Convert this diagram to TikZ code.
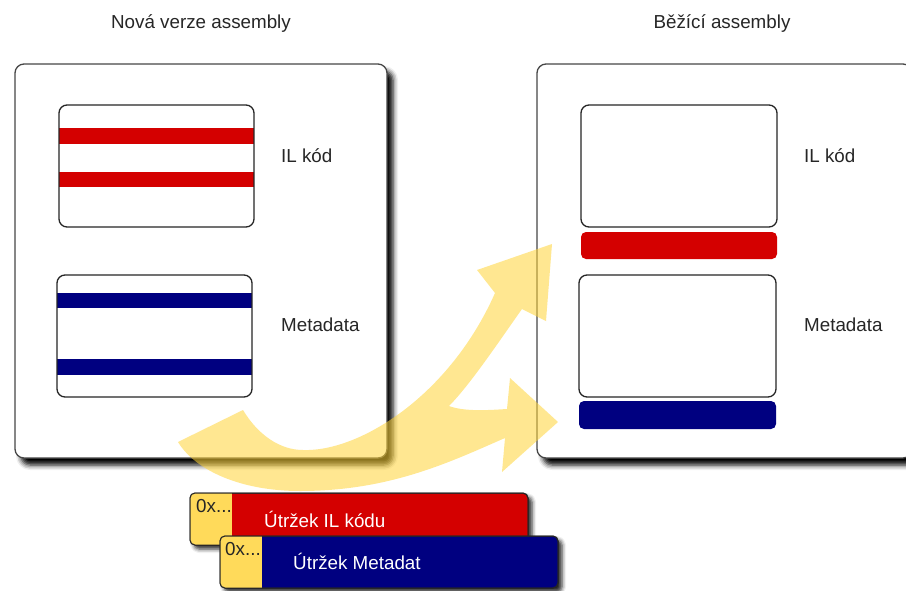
\documentclass[tikz,border=0pt]{standalone}
\usepackage{fontspec}
\setmainfont{Liberation Sans}
\usetikzlibrary{shadows.blur}
\definecolor{ilred}{RGB}{212,0,0}
\definecolor{mdblue}{RGB}{0,0,128}
\definecolor{addr}{RGB}{255,218,90}
\definecolor{flow}{RGB}{255,212,55}
\definecolor{frame}{RGB}{70,70,70}

\begin{document}
\begin{tikzpicture}[x=1pt,y=-1pt,
  panel/.style={fill=white, draw=frame, line width=1.3pt, rounded corners=9pt,
    blur shadow={shadow xshift=6pt, shadow yshift=-7pt, shadow blur radius=5pt, shadow opacity=100}},
  slot/.style={draw=black!85, line width=1.3pt, rounded corners=8pt},
  bar/.style={rounded corners=5pt},
  lbl/.style={font=\fontsize{18.8}{22}\selectfont, anchor=base west, inner sep=0pt, text=black!85},
  ttl/.style={font=\fontsize{18.8}{22}\selectfont, anchor=base, inner sep=0pt, text=black!85},
  chunk/.style={draw=black!85, line width=1pt, rounded corners=5pt},
  chunkshadow/.style={blur shadow={shadow xshift=4pt, shadow yshift=-4pt, shadow blur radius=4pt, shadow opacity=85}},
]
\useasboundingbox (0,0) rectangle (906,590);

% titles
\node[ttl] (tnew) at (201,28) {Nová verze assembly};
\node[ttl] (trun) at (722,28) {Běžící assembly};

% left panel: new assembly version
\path[panel] (15,64) rectangle (387,458);
\fill[ilred] (59,128) rectangle (254,144);
\fill[ilred] (59,172) rectangle (254,187);
\draw[slot] (59,105) rectangle (254,227);
\fill[mdblue] (57,293) rectangle (252,308);
\fill[mdblue] (57,359) rectangle (252,375);
\draw[slot] (57,275) rectangle (252,397);
\node[lbl] (lil) at (281,162) {IL kód};
\node[lbl] (lmd) at (281,331) {Metadata};

% right panel: running assembly
\path[panel] (537,64) rectangle (912,458);
\draw[slot] (581,105) rectangle (777,227);
\fill[ilred, bar] (581,232) rectangle (777,259);
\draw[slot] (579,275) rectangle (776,397);
\fill[mdblue, bar] (579,401) rectangle (776,429);
\node[lbl] (ril) at (804,162) {IL kód};
\node[lbl] (rmd) at (804,331) {Metadata};

% split flow arrow
\fill[flow, opacity=0.55]
  (178,442) -- (243,410)
  .. controls (258,435) and (280,450) .. (303,450)
  .. controls (360,452) and (450,395) .. (495,293)
  -- (477,270) -- (552,244) -- (546,321) -- (522,309)
  .. controls (500,340) and (470,385) .. (449,406)
  .. controls (465,412) and (490,410) .. (507,409)
  -- (510,378) -- (558,422) -- (502,472) -- (505,438)
  .. controls (450,462) and (390,491) .. (300,491)
  .. controls (240,491) and (195,470) .. (178,442) -- cycle;

% IL code chunk
\path[chunk, fill=ilred, chunkshadow] (190,493) rectangle (528,545);
\begin{scope}
  \clip[rounded corners=5pt] (190,493) rectangle (528,545);
  \fill[addr] (190,493) rectangle (232,545);
\end{scope}
\draw[chunk] (190,493) rectangle (528,545);
\node[lbl] (a1) at (196,512) {0x...};
\node[lbl, text=white] (c1) at (264,527) {Útržek IL kódu};

% metadata chunk
\path[chunk, fill=mdblue, chunkshadow] (220,536) rectangle (558,588);
\begin{scope}
  \clip[rounded corners=5pt] (220,536) rectangle (558,588);
  \fill[addr] (220,536) rectangle (262,588);
\end{scope}
\draw[chunk] (220,536) rectangle (558,588);
\node[lbl] (a2) at (225,555) {0x...};
\node[lbl, text=white] (c2) at (293,569) {Útržek Metadat};
\end{tikzpicture}
\end{document}
